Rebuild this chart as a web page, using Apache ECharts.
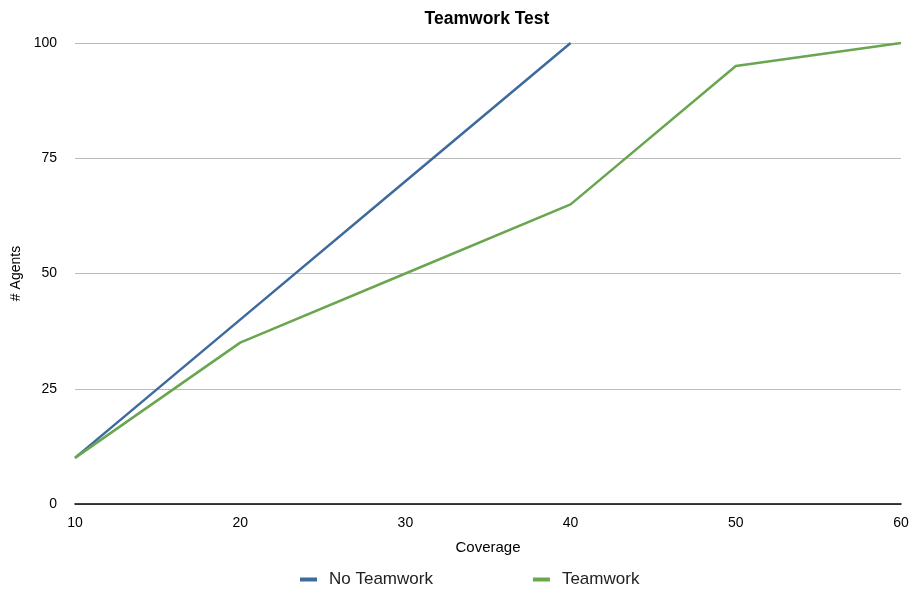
<!DOCTYPE html>
<html>
<head>
<meta charset="utf-8">
<script src="https://cdn.jsdelivr.net/npm/echarts@6/dist/echarts.min.js"></script>
<style>html,body{margin:0;padding:0;background:#fff}#c{width:913px;height:592px}</style>
</head>
<body>
<div id="c"></div>
<script>
const coverage = [10, 20, 30, 40, 50, 60];
const noTeamwork = [10, 40, 70, 100, null, null];
const teamwork = [10, 35, 50, 65, 95, 100];
const seriesNames = ['No Teamwork', 'Teamwork'];

const chart = echarts.init(document.getElementById('c'));
const font = 'Liberation Sans, Arial, sans-serif';
chart.setOption({
  animation: false,
  title: {
    text: 'Teamwork Test', left: 482, top: 5, textAlign: 'center',
    textStyle: { fontFamily: font, fontSize: 17.5, fontWeight: 'bold', color: '#000' }
  },
  legend: {
    left: 295, top: 566, itemWidth: 17, itemHeight: 4, itemGap: 100,
    icon: 'rect',
    textStyle: { fontFamily: font, fontSize: 17, color: '#222', padding: [0, 0, 0, 7] },
    data: seriesNames
  },
  grid: { left: 75, right: 12, top: 43, bottom: 88, containLabel: false },
  xAxis: {
    type: 'value', min: 10, max: 60, interval: 10,
    name: 'Coverage', nameLocation: 'middle', nameGap: 36,
    nameTextStyle: { fontFamily: font, fontSize: 15, color: '#000' },
    axisLine: { show: true, lineStyle: { color: '#000', width: 1.5 } },
    axisTick: { show: false },
    splitLine: { show: false },
    axisLabel: { fontFamily: font, fontSize: 14, color: '#000', margin: 12 }
  },
  yAxis: {
    type: 'value', min: 0, max: 100, interval: 25,
    name: '# Agents', nameLocation: 'middle', nameGap: 52,
    nameTextStyle: { fontFamily: font, fontSize: 14, color: '#000' },
    axisLine: { show: false }, axisTick: { show: false },
    splitLine: { lineStyle: { color: '#bbb', width: 1 } },
    axisLabel: { fontFamily: font, fontSize: 14, color: '#000', margin: 18 }
  },
  series: [
    {
      name: seriesNames[0], type: 'line', showSymbol: false,
      data: coverage.map((x, i) => [x, noTeamwork[i]]).filter(d => d[1] !== null),
      lineStyle: { color: '#3e6b9e', width: 2.5 }, itemStyle: { color: '#3e6b9e' }
    },
    {
      name: seriesNames[1], type: 'line', showSymbol: false,
      data: coverage.map((x, i) => [x, teamwork[i]]),
      lineStyle: { color: '#6aa550', width: 2.5 }, itemStyle: { color: '#6aa550' }
    }
  ]
});
</script>
</body>
</html>
